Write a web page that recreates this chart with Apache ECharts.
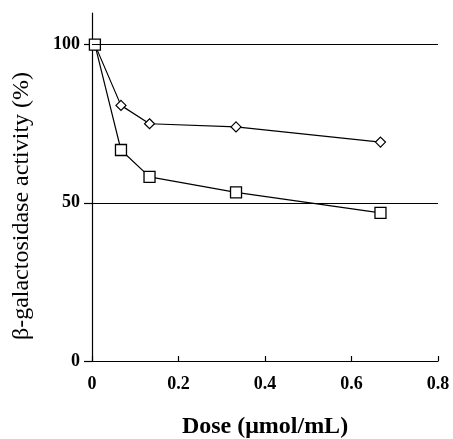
<!DOCTYPE html>
<html>
<head>
<meta charset="utf-8">
<script src="https://cdn.jsdelivr.net/npm/echarts@6/dist/echarts.min.js"></script>
<style>
  html, body { margin: 0; padding: 0; background: #fff; }
  #chart { width: 453px; height: 439px; }
</style>
</head>
<body>
<div id="chart"></div>
<script>
// doses (umol/mL) and activity (%)
const doses = [0.0067, 0.067, 0.133, 0.333, 0.667];
const diamondValues = [100, 80.8, 75, 74, 69.2];
const squareValues = [100, 66.7, 58.2, 53.3, 46.8];
const yTicks = [0, 50, 100];
const xTicks = [0, 0.2, 0.4, 0.6, 0.8];
const gridValues = [50, 100];

const font = 'Liberation Serif, Times New Roman, serif';

let chart = echarts.init(document.getElementById('chart'));

chart.setOption({
    animation: false,
    backgroundColor: '#fff',
    grid: {left: 92, right: 15, top: 13, bottom: 78, outerBoundsMode: 'none'},
    xAxis: {
        type: 'value',
        min: 0,
        max: 0.8,
        interval: 0.2,
        name: 'Dose (\u03bcmol/mL)',
        nameLocation: 'middle',
        nameGap: 54,
        nameTextStyle: {fontFamily: font, fontWeight: 'bold', fontSize: 24, color: '#000'},
        axisLine: {lineStyle: {color: '#000', width: 1.2}},
        axisTick: {inside: true, length: 5, lineStyle: {color: '#000', width: 1.2}},
        axisLabel: {
            fontFamily: font, fontWeight: 'bold', fontSize: 18, color: '#000', margin: 14,
            formatter: v => xTicks.includes(+v.toFixed(1)) ? String(+v.toFixed(1)) : ''
        },
        splitLine: {show: false}
    },
    yAxis: {
        type: 'value',
        min: 0,
        max: 110,
        name: '\u03b2-galactosidase activity (%)',
        nameLocation: 'middle',
        nameGap: 58,
        nameTextStyle: {fontFamily: font, fontSize: 24, color: '#000', padding: [0, 38, 0, 0]},
        axisLine: {onZero: false, lineStyle: {color: '#000', width: 1.2}},
        axisTick: {customValues: yTicks, length: 8, lineStyle: {color: '#000', width: 1.2}},
        axisLabel: {
            customValues: yTicks,
            fontFamily: font, fontWeight: 'bold', fontSize: 18, color: '#000', margin: 12
        },
        splitLine: {show: false}
    },
    series: [
        {
            type: 'line',
            data: doses.map((d, i) => [d, diamondValues[i]]),
            symbol: 'diamond',
            symbolSize: [10, 10],
            showAllSymbol: true,
            lineStyle: {color: '#000', width: 1.2},
            itemStyle: {color: '#fff', borderColor: '#000', borderWidth: 1.2},
            markLine: {
                silent: true,
                symbol: 'none',
                label: {show: false},
                lineStyle: {color: '#000', width: 1, type: 'solid'},
                data: gridValues.map(v => ({yAxis: v}))
            },
            z: 3
        },
        {
            type: 'line',
            data: doses.map((d, i) => [d, squareValues[i]]),
            symbol: 'rect',
            symbolSize: 11,
            showAllSymbol: true,
            lineStyle: {color: '#000', width: 1.2},
            itemStyle: {color: '#fff', borderColor: '#000', borderWidth: 1.3},
            z: 4
        }
    ]
});
</script>
</body>
</html>
